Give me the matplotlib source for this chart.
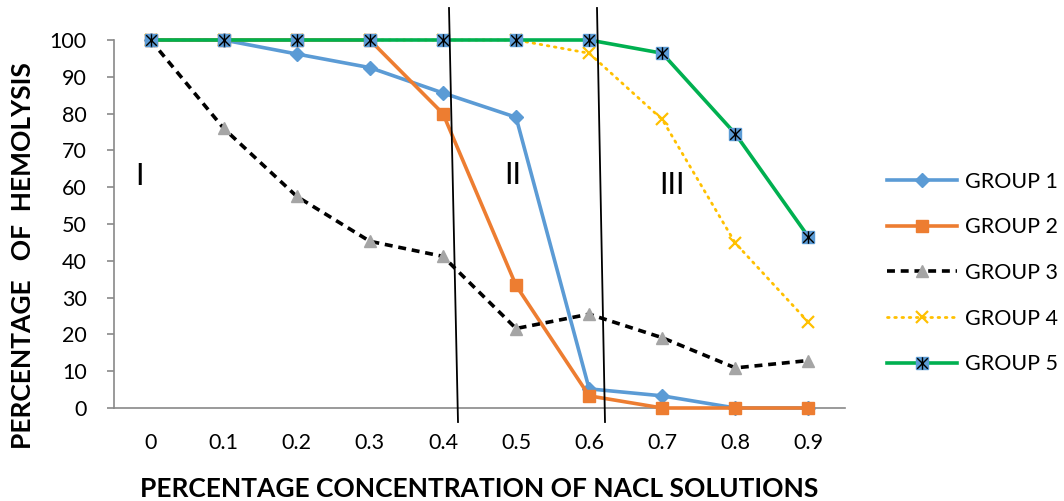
import matplotlib
matplotlib.use("Agg")
import matplotlib.pyplot as plt
from matplotlib.path import Path
from matplotlib.lines import Line2D
from matplotlib.legend_handler import HandlerTuple

plt.rcParams['font.family'] = ['Lato', 'DejaVu Sans']

concentrations = ["0", "0.1", "0.2", "0.3", "0.4", "0.5", "0.6", "0.7", "0.8", "0.9"]
group1 = [100, 100, 96.2, 92.5, 85.6, 79.0, 5.2, 3.3, 0, 0]
group2 = [100, 100, 100, 100, 80.0, 33.3, 3.3, 0, 0, 0]
group3 = [100, 76.0, 57.5, 45.3, 41.2, 21.6, 25.5, 19.1, 10.9, 12.9]
group4 = [100, 100, 100, 100, 100, 100, 96.4, 78.4, 44.8, 23.3]
group5 = [100, 100, 100, 100, 100, 100, 100, 96.4, 74.5, 46.5]
y_ticks = [0, 10, 20, 30, 40, 50, 60, 70, 80, 90, 100]

BLUE = "#5B9BD5"
ORANGE = "#ED7D31"
GRAY = "#A5A5A5"
YELLOW = "#FFC000"
GREEN = "#00B050"
AXIS_GRAY = "#898989"

# Excel-style "star" marker: an X crossed by a vertical bar
star_path = Path(
    [(0, -1), (0, 1), (-0.85, -0.85), (0.85, 0.85), (-0.85, 0.85), (0.85, -0.85)],
    [Path.MOVETO, Path.LINETO, Path.MOVETO, Path.LINETO, Path.MOVETO, Path.LINETO],
)

fig = plt.figure(figsize=(10.64, 5.01), dpi=100)
ax = fig.add_axes([114 / 1064, (501 - 408) / 501, (845 - 114) / 1064, (408 - 40) / 501])

x = list(range(len(concentrations)))

l1, = ax.plot(x, group1, color=BLUE, lw=2.6, marker="D", ms=7.5, mfc=BLUE, mec=BLUE,
              label="GROUP 1", zorder=3, clip_on=False)
l2, = ax.plot(x, group2, color=ORANGE, lw=2.6, marker="s", ms=9, mfc=ORANGE, mec=ORANGE,
              label="GROUP 2", zorder=4, clip_on=False)
l3, = ax.plot(x, group3, color="black", lw=2.6, ls=(0, (2.2, 1.6)), marker="^", ms=9,
              mfc=GRAY, mec=GRAY, label="GROUP 3", zorder=5, clip_on=False)
l4, = ax.plot(x, group4, color=YELLOW, lw=2.0, ls=(0, (0.6, 2.0)), dash_capstyle="round",
              marker="x", ms=9, mew=1.6, mfc=YELLOW, mec=YELLOW, label="GROUP 4",
              zorder=6, clip_on=False)
l5, = ax.plot(x, group5, color=GREEN, lw=2.6, marker="s", ms=9, mfc=BLUE, mec=BLUE,
              zorder=7, clip_on=False)
l5s, = ax.plot(x, group5, ls="none", marker=star_path, ms=9, mew=1.0, mec="black",
               mfc="none", zorder=8, clip_on=False)

ax.set_xlim(-0.5, len(concentrations) - 0.5)
ax.set_ylim(0, 100)
ax.set_xticks(x)
ax.set_xticklabels(concentrations)
ax.set_yticks(y_ticks)

for side in ("top", "right"):
    ax.spines[side].set_visible(False)
for side in ("left", "bottom"):
    ax.spines[side].set_color(AXIS_GRAY)
    ax.spines[side].set_linewidth(1.2)

ax.tick_params(axis="x", length=0, pad=18, labelsize=15.5)
ax.tick_params(axis="y", length=5, width=1.2, color=AXIS_GRAY, direction="out",
               pad=14.5, labelsize=15.5)

ax.set_xlabel("PERCENTAGE CONCENTRATION OF NACL SOLUTIONS", fontsize=19,
              fontweight="bold", labelpad=17)
fig.text(23 / 1064, 1 - 256 / 501, "PERCENTAGE   OF  HEMOLYSIS", rotation=90,
         fontsize=19, fontweight="bold", ha="center", va="center")

# Region boundaries and labels
for (x0, y0), (x1, y1) in [((449, 8), (458, 422)), ((597, 8), (605, 422))]:
    fig.add_artist(Line2D([x0 / 1064, x1 / 1064], [1 - y0 / 501, 1 - y1 / 501],
                          color="black", lw=1.3, zorder=20))
for label, (px, py) in [("I", (140, 176)), ("II", (513, 175)), ("III", (672, 185))]:
    fig.text(px / 1064, 1 - py / 501, label, fontsize=22, ha="center", va="center")

leg = fig.legend(
    [l1, l2, l3, l4, (l5, l5s)],
    ["GROUP 1", "GROUP 2", "GROUP 3", "GROUP 4", "GROUP 5"],
    handler_map={tuple: HandlerTuple(ndivide=1)},
    loc="center left", bbox_to_anchor=(887 / 1064, 1 - 273 / 501),
    frameon=False, fontsize=15.5, numpoints=1, handlelength=3.25,
    handletextpad=0.37, labelspacing=1.19, borderpad=0, borderaxespad=0,
)

fig.savefig("out.png", dpi=100)
